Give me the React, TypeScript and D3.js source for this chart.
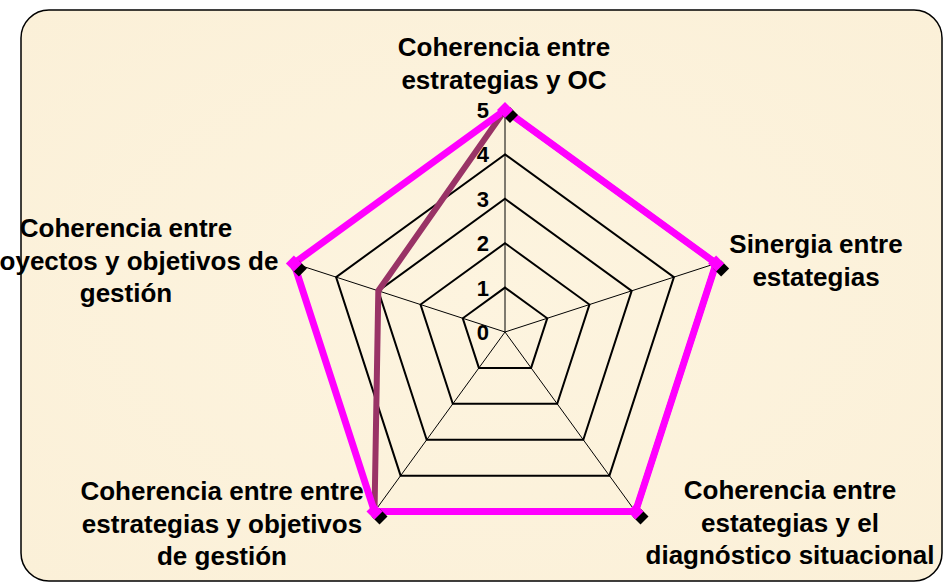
import React from 'react'
import * as d3 from 'd3'

const categories = [
  ['Coherencia entre', 'estrategias y OC'],
  ['Sinergia entre', 'estategias'],
  ['Coherencia entre', 'estategias y el', 'diagnóstico situacional'],
  ['Coherencia entre entre', 'estrategias y objetivos', 'de gestión'],
  ['Coherencia entre', 'proyectos y objetivos de', 'gestión'],
]
const seriesA = [5, 5, 5, 5, 3]
const seriesB = [5, 5, 5, 5, 5]
const ticks = [0, 1, 2, 3, 4, 5]

const W = 944
const H = 583
const cx = 505
const cy = 332
const R = 222

// label anchor points (center x, first baseline y) for each axis
const labelPos = [
  { x: 504, y: 56 },
  { x: 816, y: 253 },
  { x: 790, y: 499 },
  { x: 222, y: 500 },
  { x: 126, y: 237 },
]

export default function App() {
  const r = d3.scaleLinear().domain([0, 5]).range([0, R])
  const angle = (i: number) => (i * 2 * Math.PI) / categories.length
  const pt = (i: number, v: number): [number, number] => [
    cx + r(v) * Math.sin(angle(i)),
    cy - r(v) * Math.cos(angle(i)),
  ]
  const closed = d3.line().curve(d3.curveLinearClosed)

  const ringPath = (v: number) => closed(categories.map((_, i) => pt(i, v)))
  const seriesPath = (vals: number[]) => closed(vals.map((v, i) => pt(i, v)))

  const diamond = (x: number, y: number, s: number) =>
    `M${x},${y - s}L${x + s},${y}L${x},${y + s}L${x - s},${y}Z`

  return (
    <svg width={W} height={H} style={{ position: 'absolute', left: 0, top: 0 }}
      fontFamily="'Liberation Sans', Arial, sans-serif">
      <defs>
        <radialGradient id="bg" cx="50%" cy="50%" r="70%">
          <stop offset="0%" stopColor="#fdf4df" />
          <stop offset="100%" stopColor="#fbf0d8" />
        </radialGradient>
      </defs>
      <rect x={21} y={10} width={921} height={571} rx={28} fill="url(#bg)" stroke="#000" strokeWidth={1.5} />

      {categories.map((_, i) => {
        const [x, y] = pt(i, 5)
        return <line key={'ax' + i} x1={cx} y1={cy} x2={x} y2={y} stroke="#000" strokeWidth={1} />
      })}
      {ticks.slice(1).map(t => (
        <path key={'ring' + t} d={ringPath(t) || ''} fill="none" stroke="#000" strokeWidth={2} />
      ))}

      {ticks.map(t => (
        <text key={'t' + t} x={489} y={cy - r(t)} dy="0.36em" textAnchor="end"
          fontSize={22} fontWeight="bold" fill="#000">{t}</text>
      ))}

      <path d={seriesPath(seriesA) || ''} fill="none" stroke="#993366" strokeWidth={6} strokeLinejoin="round" />
      <path d={seriesPath(seriesB) || ''} fill="none" stroke="#ff00ff" strokeWidth={7} strokeLinejoin="miter" />

      {seriesB.map((v, i) => {
        const [x, y] = pt(i, v)
        return (
          <g key={'m' + i}>
            <path d={diamond(x + 5, y + 5, 8)} fill="#000" />
            <path d={diamond(x, y, 8)} fill="#ff00ff" />
          </g>
        )
      })}

      {categories.map((lines, i) => (
        <text key={'c' + i} textAnchor="middle" fontSize={26} fontWeight="bold" fill="#000">
          {lines.map((ln, j) => (
            <tspan key={j} x={labelPos[i].x} y={labelPos[i].y + j * 32.5}>{ln}</tspan>
          ))}
        </text>
      ))}
    </svg>
  )
}
